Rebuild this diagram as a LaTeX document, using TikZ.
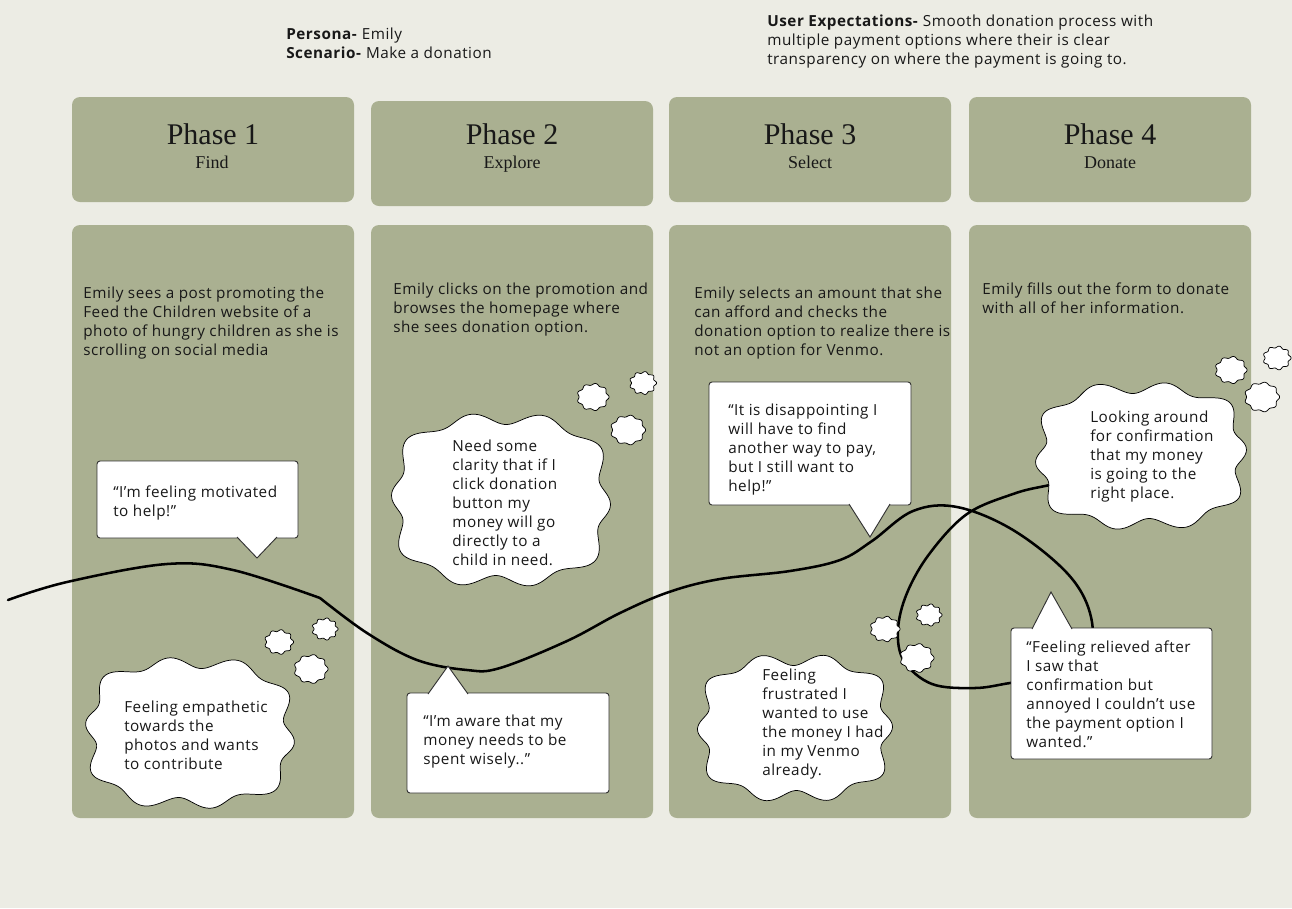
\documentclass[tikz,border=0pt]{standalone}
\usepackage{fontspec}
\setmainfont{Open Sans}[LetterSpace=3.5]
\newfontfamily\phasefont{Liberation Serif}
\definecolor{bgc}{RGB}{236,236,228}
\definecolor{panelc}{RGB}{170,176,145}
\definecolor{textc}{RGB}{24,24,24}
\definecolor{boxline}{RGB}{50,50,50}
\tikzset{
  panel/.style={fill=panelc, rounded corners=6pt},
  speechbox/.style={fill=white, draw=boxline, line width=0.7pt, rounded corners=2.25pt},
  tailfill/.style={fill=white},
  tailline/.style={draw=boxline, line width=0.7pt, line join=miter},
  cloudshape/.style={fill=white, draw=black, line width=0.55pt},
  bodytext/.style={anchor=north west, inner sep=0pt, align=left, text=textc,
     font=\fontsize{11.45pt}{14.25pt}\selectfont},
  phasetitle/.style={anchor=base, inner sep=0pt, text=textc, font=\phasefont\fontsize{22.5pt}{24pt}\selectfont},
  phasesub/.style={anchor=base, inner sep=0pt, text=textc, font=\phasefont\fontsize{13.5pt}{15pt}\selectfont},
  journey/.style={draw=black, line width=1.9pt, line cap=round, line join=round}
}
% big wavy cloud: cx, cy, a, b, phase
\newcommand\bigcloudshape[5]{%
  \draw[cloudshape] plot[domain=0:360, samples=241]
   ({#1+cos(\x)*(#3/pow(pow(abs(cos(\x)),3)+pow(abs(sin(\x)),3),0.3333)+5.5*sin(10*\x+#5))},
    {#2+sin(\x)*(#4/pow(pow(abs(cos(\x)),3)+pow(abs(sin(\x)),3),0.3333)+5.5*sin(10*\x+#5))}) -- cycle;}
% small scalloped cloud: cx, cy, r
\newcommand\smallcloudshape[3]{%
  \draw[cloudshape] plot[domain=0:360, samples=181]
   ({#1+cos(\x)*(#3+1.1*cos(9*\x))}, {#2+0.85*sin(\x)*(#3+1.1*cos(9*\x))}) -- cycle;}
% speech box with tail: x1,y1,x2,y2, base-left x, base-right x, tip x, tip y, base y
\newcommand\speechshape[9]{%
  \draw[speechbox] (#1,#2) rectangle (#3,#4);
  \fill[tailfill] (#5,#9) -- (#7,#8) -- (#6,#9) -- cycle;
  \draw[tailline] (#5,#9) -- (#7,#8) -- (#6,#9);}
\begin{document}
\begin{tikzpicture}[x=0.75pt,y=-0.75pt]
\useasboundingbox (0,0) rectangle (1292,908);
\fill[bgc] (0,0) rectangle (1292,908);

% header texts
\node[bodytext] (persona) at (286,27.5) {\textbf{Persona-} Emily\\\textbf{Scenario-} Make a donation};
\node[bodytext] (expect) at (767,14.5) {\textbf{User Expectations-} Smooth donation process with\\multiple payment options where their is clear\\transparency on where the payment is going to.};

% phase header boxes
\fill[panel] (72,97) rectangle (354,202);
\fill[panel] (371,101) rectangle (653,206);
\fill[panel] (669,97) rectangle (951,202);
\fill[panel] (969,97) rectangle (1251,202);
\node[phasetitle] (p1t) at (213,144) {Phase 1};
\node[phasesub] (p1s) at (212,168) {Find};
\node[phasetitle] (p2t) at (512,144) {Phase 2};
\node[phasesub] (p2s) at (512,168) {Explore};
\node[phasetitle] (p3t) at (810,144) {Phase 3};
\node[phasesub] (p3s) at (810,168) {Select};
\node[phasetitle] (p4t) at (1110,144) {Phase 4};
\node[phasesub] (p4s) at (1110,168) {Donate};

% body panels
\fill[panel] (72,225) rectangle (354,818);
\fill[panel] (371,225) rectangle (653,818);
\fill[panel] (669,225) rectangle (951,818);
\fill[panel] (969,225) rectangle (1251,818);

\node[bodytext] (d1) at (83,287) {Emily sees a post promoting the\\Feed the Children website of a\\photo of hungry children as she is\\scrolling on social media};
\node[bodytext] (d2) at (393,283) {Emily clicks on the promotion and\\browses the homepage where\\she sees donation option.};
\node[bodytext] (d3) at (694,287) {Emily selects an amount that she\\can afford and checks the\\donation option to realize there is\\not an option for Venmo.};
\node[bodytext] (d4) at (982,283) {Emily fills out the form to donate\\with all of her information.};

% journey line
\draw[journey] plot[smooth, tension=0.6] coordinates {(8,600) (67,582) (167,564) (233,570) (320,598)};
\draw[journey] plot[smooth, tension=0.6] coordinates {(320,598) (367,633) (417,660) (467,670) (500,668) (567,641) (620,613) (669,592) (720,579) (790,571) (840,560) (872,541) (913,511) (957,507) (1013,530) (1067,573) (1090,613) (1088,650) (1050,677) (1010,683) (975,688) (932,684) (904,661) (898,630) (907,593) (930,553) (967,514) (1013,494) (1045,486) (1070,482)};

% phase 1 emotions
\speechshape{97}{461}{298}{538}{237}{277}{257}{558}{537}
\node[bodytext] (s1) at (113,486) {“I’m feeling motivated\\to help!”};
\smallcloudshape{279}{642}{13.5}
\smallcloudshape{325}{629}{12}
\smallcloudshape{311}{669}{16}
\bigcloudshape{190}{733}{99}{70}{20}
\node[bodytext] (c1) at (124,701) {Feeling empathetic\\towards the\\photos and wants\\to contribute};

% phase 2 emotions
\smallcloudshape{593}{397}{15}
\smallcloudshape{643}{383}{12.5}
\smallcloudshape{628}{430}{16.5}
\bigcloudshape{501}{500}{104}{81}{60}
\node[bodytext] (c2) at (452,440) {Need some\\clarity that if I\\click donation\\button my\\money will go\\directly to a\\child in need.};
\speechshape{407}{693}{609}{793}{428}{468}{448}{666}{694}
\node[bodytext] (s2) at (423,715) {“I’m aware that my\\money needs to be\\spent wisely..”};

% phase 3 emotions
\speechshape{709}{382}{911}{505}{849}{890}{870}{537}{504}
\node[bodytext] (s3) at (728,404) {“It is disappointing I\\will have to find\\another way to pay,\\but I still want to\\help!”};
\smallcloudshape{885}{629}{14}
\smallcloudshape{929}{615}{12}
\smallcloudshape{917}{658}{16}
\bigcloudshape{795}{728}{92}{68}{100}
\node[bodytext] (c3) at (762,669) {Feeling\\frustrated I\\wanted to use\\the money I had\\in my Venmo\\already.};

% phase 4 emotions
\smallcloudshape{1231}{370}{15}
\smallcloudshape{1277}{358}{13}
\smallcloudshape{1262}{397}{16.5}
\bigcloudshape{1141}{456}{100}{68}{140}
\node[bodytext] (c4) at (1090,411) {Looking around\\for confirmation\\that my money\\is going to the\\right place.};
\speechshape{1011}{628}{1212}{759}{1032}{1072}{1051}{592}{629}
\node[bodytext] (s4) at (1026,641) {“Feeling relieved after\\I saw that\\confirmation but\\annoyed I couldn’t use\\the payment option I\\wanted.”};
\end{tikzpicture}
\end{document}
